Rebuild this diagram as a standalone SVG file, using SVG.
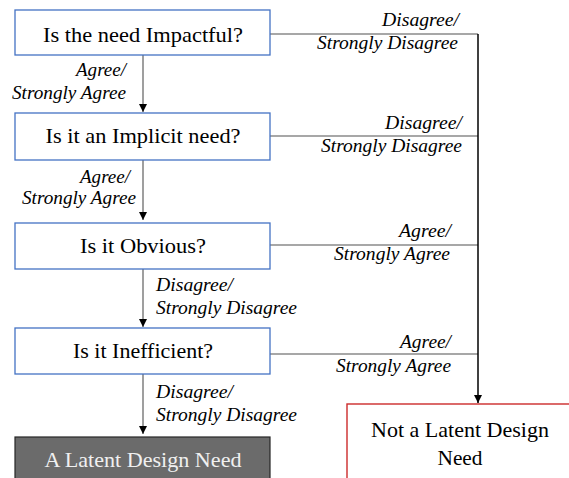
<svg xmlns="http://www.w3.org/2000/svg" width="569" height="478" viewBox="0 0 569 478">
  <style>
    text { font-family: "Liberation Serif", "Times New Roman", Times, Tinos, "Nimbus Roman", "Noto Serif", "DejaVu Serif", serif; }
    .q rect { fill: #ffffff; stroke: #4472c4; stroke-width: 1.3; }
    .t { font-size: 22px; text-anchor: middle; fill: #000; }
    .lbl { font-size: 19px; font-style: italic; fill: #000; }
    .r { text-anchor: end; }
    .wire { fill: none; stroke: #505050; stroke-width: 1.1; }
  </style>
  <defs>
    <marker id="arr" viewBox="0 0 10 10" refX="10" refY="5" markerWidth="8" markerHeight="8" orient="auto" markerUnits="userSpaceOnUse">
      <path d="M0,0 L10,5 L0,10 Z" fill="#000"/>
    </marker>
  </defs>
  <rect width="569" height="478" fill="#ffffff"/>

  <g id="connectors">
    <path class="wire" d="M143,55 V112" marker-end="url(#arr)"/>
    <path class="wire" d="M143,160 V220" marker-end="url(#arr)"/>
    <path class="wire" d="M143,269 V327" marker-end="url(#arr)"/>
    <path class="wire" d="M143,374 V434" marker-end="url(#arr)"/>
    <path class="wire" d="M270,34 H478"/>
    <path class="wire" d="M270,136 H478"/>
    <path class="wire" d="M270,245 H478"/>
    <path class="wire" d="M270,354 H478"/>
    <path class="wire" d="M478,34 V403" style="stroke:#000;stroke-width:1.5" marker-end="url(#arr)"/>
  </g>

  <g id="labels">
    <text class="lbl r" x="126" y="76" textLength="50" lengthAdjust="spacingAndGlyphs">Agree/</text>
    <text class="lbl r" x="126" y="99" textLength="114" lengthAdjust="spacingAndGlyphs">Strongly Agree</text>
    <text class="lbl r" x="130" y="183" textLength="50" lengthAdjust="spacingAndGlyphs">Agree/</text>
    <text class="lbl r" x="136" y="204" textLength="114" lengthAdjust="spacingAndGlyphs">Strongly Agree</text>
    <text class="lbl" x="156" y="291" textLength="77" lengthAdjust="spacingAndGlyphs">Disagree/</text>
    <text class="lbl" x="156" y="314" textLength="141" lengthAdjust="spacingAndGlyphs">Strongly Disagree</text>
    <text class="lbl" x="156" y="398" textLength="77" lengthAdjust="spacingAndGlyphs">Disagree/</text>
    <text class="lbl" x="156" y="421" textLength="141" lengthAdjust="spacingAndGlyphs">Strongly Disagree</text>
    <text class="lbl r" x="459" y="26" textLength="77" lengthAdjust="spacingAndGlyphs">Disagree/</text>
    <text class="lbl r" x="458" y="49" textLength="141" lengthAdjust="spacingAndGlyphs">Strongly Disagree</text>
    <text class="lbl r" x="462" y="129" textLength="77" lengthAdjust="spacingAndGlyphs">Disagree/</text>
    <text class="lbl r" x="462" y="152" textLength="141" lengthAdjust="spacingAndGlyphs">Strongly Disagree</text>
    <text class="lbl r" x="451" y="237" textLength="52" lengthAdjust="spacingAndGlyphs">Agree/</text>
    <text class="lbl r" x="450" y="260" textLength="116" lengthAdjust="spacingAndGlyphs">Strongly Agree</text>
    <text class="lbl r" x="451" y="348" textLength="51" lengthAdjust="spacingAndGlyphs">Agree/</text>
    <text class="lbl r" x="451" y="372" textLength="115" lengthAdjust="spacingAndGlyphs">Strongly Agree</text>
  </g>

  <g id="q-impactful" class="q">
    <rect x="15" y="10" width="255" height="45"/>
    <text class="t" x="143" y="42" textLength="200" lengthAdjust="spacingAndGlyphs">Is the need Impactful?</text>
  </g>
  <g id="q-implicit" class="q">
    <rect x="15" y="113" width="255" height="47"/>
    <text class="t" x="143" y="143" textLength="195" lengthAdjust="spacingAndGlyphs">Is it an Implicit need?</text>
  </g>
  <g id="q-obvious" class="q">
    <rect x="15" y="223" width="255" height="46"/>
    <text class="t" x="143" y="253" textLength="126" lengthAdjust="spacingAndGlyphs">Is it Obvious?</text>
  </g>
  <g id="q-inefficient" class="q">
    <rect x="15" y="328" width="255" height="46"/>
    <text class="t" x="143" y="358" textLength="140" lengthAdjust="spacingAndGlyphs">Is it Inefficient?</text>
  </g>
  <g id="latent-need">
    <rect x="15" y="437" width="255" height="50" fill="#6b6b6b" stroke="#262626" stroke-width="1.2"/>
    <text class="t" x="143" y="467" textLength="197" lengthAdjust="spacingAndGlyphs" style="fill:#f0f0f0">A Latent Design Need</text>
  </g>
  <g id="not-latent">
    <rect x="347" y="404" width="250" height="90" fill="#ffffff" stroke="#cc2b2b" stroke-width="1.4"/>
    <text class="t" x="460" y="437" textLength="178" lengthAdjust="spacingAndGlyphs">Not a Latent Design</text>
    <text class="t" x="460" y="465" textLength="45" lengthAdjust="spacingAndGlyphs">Need</text>
  </g>
</svg>
